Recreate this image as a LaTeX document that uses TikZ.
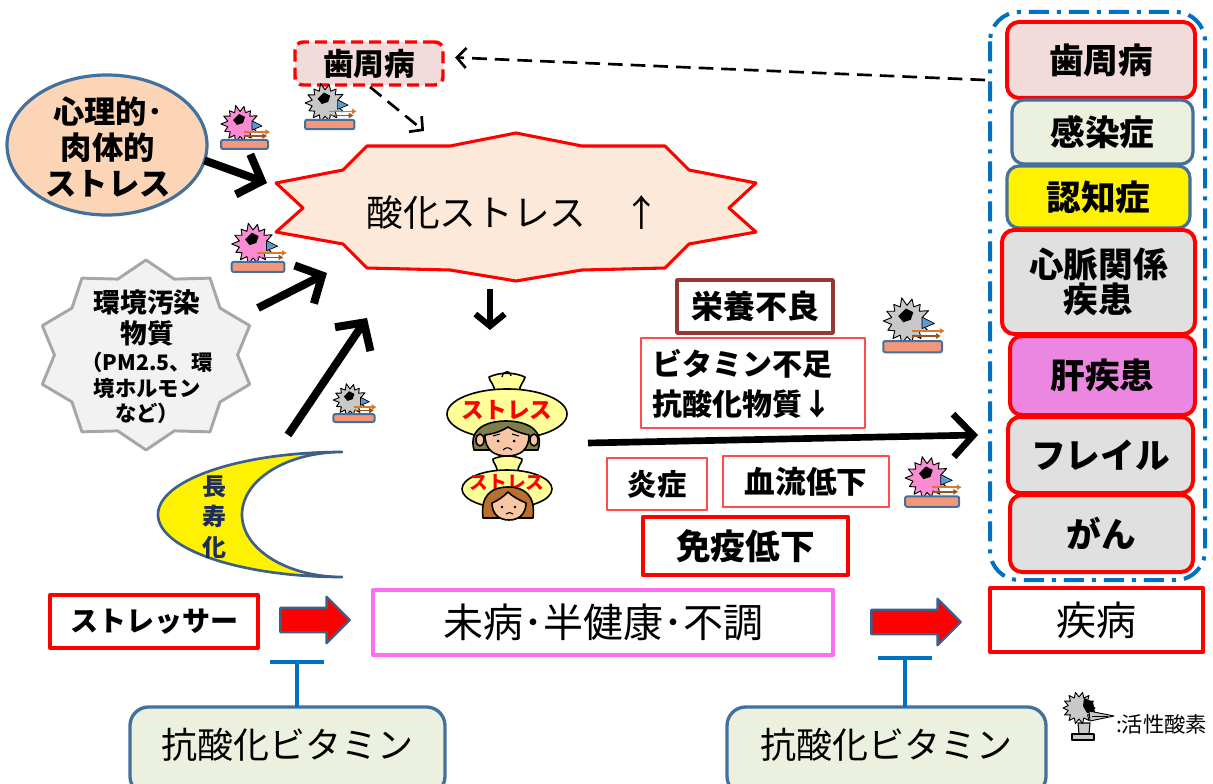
\documentclass[tikz,border=0pt]{standalone}
\usepackage{fontspec}
\setmainfont{Noto Sans CJK JP}
\usetikzlibrary{arrows.meta,shapes.geometric,shapes.arrows}

\definecolor{pdpink}{HTML}{F2DCDB}
\definecolor{paleolive}{HTML}{EBF1DE}
\definecolor{slate}{HTML}{41719C}
\definecolor{boxgrey}{HTML}{E0E0E0}
\definecolor{liverpink}{HTML}{EB87E1}
\definecolor{peach}{HTML}{FBD5B5}
\definecolor{oxfill}{HTML}{FDE9D9}
\definecolor{envfill}{HTML}{F2F2F2}
\definecolor{envline}{HTML}{A6A6A6}
\definecolor{brownred}{HTML}{953735}
\definecolor{softred}{HTML}{FF4B4B}
\definecolor{magentaline}{HTML}{FF6EF0}
\definecolor{azure}{HTML}{0070C0}
\definecolor{inknavy}{HTML}{1F2D5A}
\definecolor{padsalmon}{HTML}{F4967A}
\definecolor{ballpink}{HTML}{F98CD2}
\definecolor{ballgrey}{HTML}{C8C8C8}
\definecolor{beakblue}{HTML}{5B9BD5}
\definecolor{dartorange}{HTML}{D9782F}
\definecolor{sackyellow}{HTML}{FFFF99}
\definecolor{skin}{HTML}{F7C6A5}
\definecolor{hairolive}{HTML}{7F7D4C}
\definecolor{hairbrown}{HTML}{B8702E}
\definecolor{arrowblue}{HTML}{3E5F8A}

% spiky radical with a beak, darts and a pad: x, y, scale, fill colour
\newcommand\rosicon[4]{%
  \begin{scope}[shift={(#1,#2)}, scale=#3]
    \draw[fill=#4, line width=0.7pt] (0:17)
      \foreach \k in {1,...,27} { -- ({\k*360/28}:{ifthenelse(isodd(\k),12.5,17+mod(\k,3))}) } -- cycle;
    \fill[black] (-7,-4) -- (-1,-10) -- (5,-7) -- (3,-1) -- (-3,1) -- cycle;
    \draw[fill=beakblue, line width=0.5pt] (12,-3) -- (22,2) -- (12,6) -- cycle;
    \draw[line width=1.3pt, dartorange, -{Triangle[length=3.5pt,width=4pt]}] (4,8) -- (30,8);
    \draw[line width=1.3pt, dartorange!70!black, -{Triangle[length=3.5pt,width=4pt]}] (4,12) -- (27,12);
    \draw[fill=padsalmon, draw=slate, line width=1.5pt, rounded corners=1.5pt] (-19,16) rectangle (28,25);
  \end{scope}}

\tikzset{
  every node/.style={inner sep=0pt, outer sep=0pt},
  wh/.style 2 args={minimum width={#1*0.75pt}, minimum height={#2*0.75pt}},
  colbox/.style={rectangle, rounded corners=9pt, draw=red, line width=3pt, align=center,
    font=\bfseries\fontsize{26}{26.5}\selectfont},
  slatebox/.style={colbox, draw=slate, line width=2.4pt},
  plainbox/.style={rectangle, draw=red, line width=3pt, fill=white},
  thinbox/.style={rectangle, draw=softred, line width=1.1pt, fill=white},
  bigarrow/.style={line width=6pt, -{Straight Barb[length=15pt,width=32pt]}},
  midarrow/.style={line width=5pt, -{Straight Barb[length=15pt,width=32pt]}},
  dasharrow/.style={line width=2pt, dash pattern=on 11pt off 6pt, -{Straight Barb[length=7pt,width=15pt]}},
  inhib/.style={draw=azure, line width=3pt, -{Bar[width=40pt]}},
  blockarrow/.style={single arrow, fill=red, draw=arrowblue, line width=1.8pt,
    inner xsep=0pt, inner ysep=8.25pt, single arrow head extend=8.25pt, minimum width=33pt},
  vitbox/.style={rectangle, rounded corners=14pt, fill=paleolive, draw=slate, line width=2.5pt},
}

\begin{document}
\begin{tikzpicture}[x=0.75pt, y=-0.75pt, line join=round]
\useasboundingbox (0,0) rectangle (1213,784);
\fill[white] (0,0) rectangle (1213,784);

% ---------- right column of diseases ----------
\draw[azure, line width=3pt, dash pattern=on 15pt off 6pt on 3pt off 6pt, rounded corners=22pt]
  (990,12) rectangle (1205,580);
\node[colbox, fill=pdpink, wh={188}{76}] (c1) at (1101,60) {歯周病};
\node[slatebox, fill=paleolive, wh={181}{64}] (c2) at (1102.5,132) {感染症};
\node[slatebox, fill=yellow, wh={183}{62}] (c3) at (1098.5,197) {認知症};
\node[colbox, fill=boxgrey, wh={193}{104}] (c4) at (1098.5,282) {心脈関係\\疾患};
\node[colbox, fill=liverpink, wh={185}{79}] (c5) at (1102.5,375.5) {肝疾患};
\node[colbox, fill=boxgrey, wh={185}{76}] (c6) at (1100.5,455) {フレイル};
\node[colbox, fill=boxgrey, wh={183}{77}] (c7) at (1101.5,533.5) {がん};

% ---------- periodontal disease feedback ----------
\node[rectangle, rounded corners=6pt, fill=pdpink, draw=red, line width=2.6pt,
  dash pattern=on 9pt off 4.5pt, wh={148}{43}, font=\bfseries\fontsize{23}{23}\selectfont]
  (pdtop) at (369,63.5) {歯周病};
\draw[dasharrow] ([shift={(-22,20)}]c1.west) -- ([shift={(12,-6)}]pdtop.east);
\coordinate (oxtop) at (424,131);
\draw[dasharrow] ([shift={(1,2)}]pdtop.south) -- (oxtop);

% ---------- oxidative stress burst ----------
\draw[fill=oxfill, draw=red, line width=2.3pt]
  (516,133) -- (582,146) -- (665,146) -- (689,170) -- (756,183) -- (729,208) -- (756,232)
  -- (689,244) -- (665,268) -- (582,270) -- (516,281) -- (450,270) -- (367,268) -- (343,244)
  -- (276,232) -- (303,208) -- (276,183) -- (343,170) -- (367,146) -- (450,146) -- cycle;
\node[font=\fontsize{27.5}{27.5}\selectfont] (oxtxt) at (513,212) {酸化ストレス　↑};

% ---------- psychological / physical stress ----------
\node[ellipse, fill=peach, draw=slate, line width=2.4pt, wh={200}{140}] (psy) at (107,145) {};
\node[align=center, font=\bfseries\fontsize{23.5}{27}\selectfont] (psytxt) at (108,147)
  {心理的･\\肉体的\\ストレス};
\coordinate (oxL1) at (267,183);
\draw[bigarrow] (psy.-9) -- (oxL1);

% ---------- environmental pollutants ----------
\draw[fill=envfill, draw=envline, line width=2.2pt] (146,260)
  \foreach \k in {1,...,19} { -- ({146+ifthenelse(isodd(\k),0.84,1)*109*cos(90-\k*18)},
                                  {355-ifthenelse(isodd(\k),0.84,1)*95*sin(90-\k*18)}) } -- cycle;
\node[font=\bfseries\fontsize{20}{20}\selectfont] (env1) at (147,302) {環境汚染};
\node[font=\bfseries\fontsize{20}{20}\selectfont] (env2) at (147,333) {物質};
\node[font=\bfseries\fontsize{16}{16}\selectfont] (env3) at (147,362) {（PM2.5、環};
\node[font=\bfseries\fontsize{16}{16}\selectfont] (env4) at (147,388) {境ホルモン};
\node[font=\bfseries\fontsize{16}{16}\selectfont] (env5) at (147,413) {など）};
\coordinate (envout) at (258,308);
\coordinate (oxL2) at (327,273);
\draw[bigarrow] (envout) -- (oxL2);

% ---------- longevity crescent ----------
\draw[fill=yellow, draw=arrowblue, line width=2pt] (342,452)
  arc[start angle=270, end angle=90, x radius=184, y radius=62.5]
  arc[start angle=90, end angle=270, x radius=100, y radius=62.5] -- cycle;
\node[align=center, text=inknavy, font=\bfseries\fontsize{18}{23}\selectfont] (moontxt) at (214,517)
  {長\\寿\\化};
\coordinate (moonout) at (288,435);
\coordinate (oxL3) at (367,318);
\draw[bigarrow] (moonout) -- (oxL3);

% ---------- radical icons ----------
\rosicon{240}{124}{1}{ballpink}
\rosicon{325}{103}{1.05}{ballgrey}
\rosicon{253}{244}{1.12}{ballpink}
\rosicon{350}{400}{0.88}{ballgrey}
\rosicon{907}{321}{1.25}{ballgrey}
\rosicon{927}{478}{1.15}{ballpink}

% ---------- stressed people ----------
\coordinate (oxbot) at (490,289);
\coordinate (facetop) at (490,330);
\draw[line width=4.5pt, -{Straight Barb[length=9pt,width=22pt]}] (oxbot) -- (facetop);

\begin{scope}[line width=1.2pt]
  % lower person
  \draw[fill=sackyellow] (497,472) .. controls (498,466) and (492,462) .. (493,459)
    .. controls (502,455) and (513,455) .. (522,459) .. controls (523,462) and (517,466) .. (518,472) -- cycle;
  \draw[fill=sackyellow] (507,489) ellipse [x radius=45, y radius=19];
  \node[text=red, font=\bfseries\fontsize{14}{14}\selectfont] (sack2) at (507,483) {ストレス};
  \draw[fill=hairbrown] (483,518) .. controls (480,495) and (492,487) .. (508,487)
    .. controls (524,487) and (536,495) .. (533,518) -- cycle;
  \draw[fill=skin] (492,503) .. controls (492,514) and (499,520) .. (509,520)
    .. controls (519,520) and (526,514) .. (526,503) .. controls (519,500) and (512,496) .. (508,492)
    .. controls (503,497) and (497,501) .. (492,503) -- cycle;
  \fill (502,507) circle [radius=1.4];
  \fill (515,507) circle [radius=1.4];
  \draw[line width=0.8pt] (506,514) .. controls (508,512) and (511,512) .. (513,514);
  % upper person
  \draw[fill=sackyellow] (494,392) .. controls (496,386) and (489,381) .. (489,377)
    .. controls (500,372) and (514,372) .. (525,377) .. controls (525,381) and (518,386) .. (520,392) -- cycle;
  \draw[line width=1pt] (502,377) .. controls (503,370) and (511,370) .. (511,376);
  \draw[fill=sackyellow] (507,414) ellipse [x radius=60, y radius=25];
  \node[text=red, font=\bfseries\fontsize{17}{17}\selectfont] (sack1) at (507,410) {ストレス};
  \draw[fill=hairolive] (474,450) .. controls (468,428) and (488,421) .. (506,421)
    .. controls (524,421) and (545,428) .. (538,450) -- cycle;
  \draw[fill=skin] (480,440) ellipse [x radius=4, y radius=6];
  \draw[fill=skin] (534,440) ellipse [x radius=4, y radius=6];
  \draw[fill=skin] (485,435) .. controls (485,450) and (494,456) .. (507,456)
    .. controls (520,456) and (529,450) .. (529,435) .. controls (520,433) and (512,430) .. (508,427)
    .. controls (500,432) and (492,434) .. (485,435) -- cycle;
  \fill (498,441) circle [radius=1.5];
  \fill (514,441) circle [radius=1.5];
  \draw[line width=0.8pt] (493,436) -- (500,434);
  \draw[line width=0.8pt] (512,434) -- (519,436);
  \draw[line width=0.8pt] (503,450) .. controls (506,447) and (509,447) .. (512,450);
\end{scope}

\coordinate (faceR) at (588,443);
\coordinate (colL) at (978,435);
\draw[midarrow] (faceR) -- (colL);

% ---------- contributing factors ----------
\node[plainbox, draw=brownred, line width=2.6pt, wh={156}{53},
  font=\bfseries\fontsize{24}{24}\selectfont] (eiyo) at (755,306.5) {栄養不良};
\node[thinbox, wh={224}{90}] (vlack) at (753,383) {};
\node[anchor=west, align=left, font=\bfseries\fontsize{22.5}{30}\selectfont] (vlacktxt) at (652,384)
  {ビタミン不足\\抗酸化物質↓};
\node[thinbox, wh={100}{52}, font=\bfseries\fontsize{22}{22}\selectfont] (ensho) at (657,484) {炎症};
\node[thinbox, wh={166}{51}, font=\bfseries\fontsize{23}{23}\selectfont] (ketsu) at (806,481.5) {血流低下};
\node[plainbox, line width=3.2pt, wh={205}{58}, font=\bfseries\fontsize{26}{26}\selectfont]
  (meneki) at (745.5,546) {免疫低下};

% ---------- bottom flow ----------
\node[plainbox, wh={208}{53}, font=\bfseries\fontsize{21}{21}\selectfont] (stressor) at (154,621.5) {ストレッサー};
\node[plainbox, draw=magentaline, wh={460}{65}, font=\fontsize{30}{30}\selectfont] (mibyo) at (603,622.5)
  {未病･半健康･不調};
\node[plainbox, wh={213}{64}, font=\fontsize{30}{30}\selectfont] (shippei) at (1096.5,620) {疾病};
\node[blockarrow, minimum height=52pt] (arr1) at (309,620) {};
\node[blockarrow, minimum height=67pt, minimum width=34pt] (arr2) at (910,622) {};

\node[vitbox, wh={315}{88}] (vit1) at (287.5,751) {};
\node[font=\fontsize{27}{27}\selectfont] (vit1txt) at (287.5,745) {抗酸化ビタミン};
\node[vitbox, wh={319}{88}] (vit2) at (886.5,751) {};
\node[font=\fontsize{27}{27}\selectfont] (vit2txt) at (886.5,745) {抗酸化ビタミン};
\coordinate (t1) at (297,660);
\coordinate (t2) at (905,656);
\draw[inhib] (t1 |- vit1.north) -- (t1);
\draw[inhib] (t2 |- vit2.north) -- (t2);

% ---------- legend ----------
\draw[fill=ballgrey, line width=0.8pt] (1078,723) -- (1090,723) -- (1089,734) -- (1079,734) -- cycle;
\draw[fill=ballgrey, line width=0.8pt] (1072,734) rectangle (1094,740);
\draw[fill=ballgrey, line width=0.7pt] (1095,708)
  \foreach \k in {1,...,27} { -- ({1079+ifthenelse(isodd(\k),11,16)*cos(\k*360/28)},
                                  {708-ifthenelse(isodd(\k),11,16)*sin(\k*360/28)}) } -- cycle;
\fill[black] (1084,698) -- (1093,702) -- (1095,712) -- (1087,713) -- (1083,706) -- cycle;
\draw[fill=ballgrey, line width=0.7pt] (1089,711) -- (1114,716) -- (1090,721) -- cycle;
\draw[line width=0.6pt] (1092,716) -- (1108,716);
\node[anchor=west, font=\fontsize{16}{16}\selectfont] (legtxt) at (1116,724) {:活性酸素};
\end{tikzpicture}
\end{document}
